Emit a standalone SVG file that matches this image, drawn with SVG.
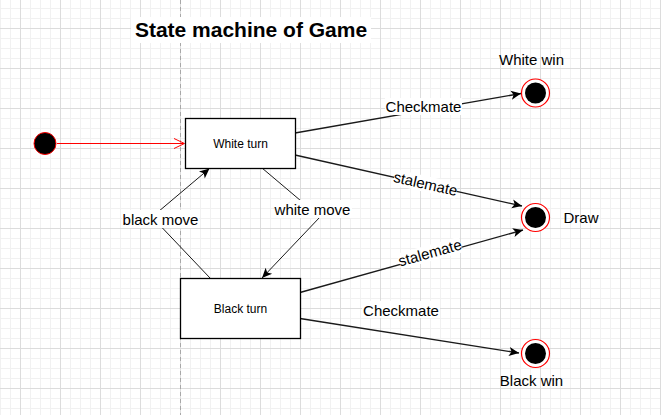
<svg xmlns="http://www.w3.org/2000/svg" width="661" height="415" viewBox="0 0 661 415">
<style>
text{font-family:"Liberation Sans",Arial,Helvetica,sans-serif;fill:#000}
.lbl{font-size:15px;text-anchor:middle}
.small{font-size:12px;text-anchor:middle}
.title{font-size:21px;font-weight:bold;text-anchor:middle}
.edge{fill:none;stroke:#1a1a1a;stroke-width:1.3}
.thin{fill:none;stroke:#1a1a1a;stroke-width:1}
.box{fill:#fff;stroke:#000;stroke-width:1.3}
.bg{fill:#fff}
.ringo{fill:#fff;stroke:#ff0000;stroke-width:1.2}
.core{fill:#000}
</style>
<defs>
<pattern id="grid" patternUnits="userSpaceOnUse" x="20" y="28" width="40" height="40">
<path d="M10.5,0V40M20.5,0V40M30.5,0V40M0,10.5H40M0,20.5H40M0,30.5H40" stroke="#f1f1f1" stroke-width="1" fill="none"/>
<path d="M0.5,0V40M0,0.5H40" stroke="#dcdcdc" stroke-width="1" fill="none"/>
</pattern>
<marker id="arr" markerUnits="userSpaceOnUse" markerWidth="11" markerHeight="9" refX="10" refY="4.5" orient="auto" overflow="visible">
<path d="M0,0 L10,4.5 L0,9 L2.5,4.5 Z" fill="#000"/>
</marker>
</defs>
<rect width="661" height="415" fill="#fff"/>
<rect width="661" height="415" fill="url(#grid)"/>
<line x1="180.5" y1="0" x2="180.5" y2="415" stroke="#a8a8a8" stroke-width="1" stroke-dasharray="4 3"/>

<g id="title">
<rect class="bg" x="131" y="17" width="240" height="26"/>
<text class="title" x="251" y="37">State machine of Game</text>
</g>

<g id="connectors">
<g id="e-init">
<line x1="57" y1="143.5" x2="184" y2="143.5" stroke="#ff0000" stroke-width="1"/>
<path d="M174,138.5 L184.5,143.5 L174,148.5" fill="none" stroke="#ff0000" stroke-width="1"/>
</g>
<g id="e-white-checkmate">
<line class="edge" x1="295" y1="133" x2="521" y2="93.5" marker-end="url(#arr)"/>
<rect class="bg" x="385" y="98" width="77" height="17"/>
<text class="lbl" x="423.5" y="112">Checkmate</text>
</g>
<g id="e-white-stalemate">
<line class="edge" x1="295" y1="155" x2="522" y2="206" marker-end="url(#arr)"/>
<g transform="translate(425.5,184) rotate(12.6)">
<rect class="bg" x="-32" y="-8" width="64" height="16"/>
<text class="lbl" x="0" y="5">stalemate</text>
</g>
</g>
<g id="e-black-stalemate">
<line class="edge" x1="300" y1="292.5" x2="523" y2="230" marker-end="url(#arr)"/>
<g transform="translate(430,253) rotate(-15.5)">
<rect class="bg" x="-32" y="-8" width="64" height="16"/>
<text class="lbl" x="0" y="5">stalemate</text>
</g>
</g>
<g id="e-black-checkmate">
<line class="edge" x1="300" y1="318.5" x2="519" y2="353" marker-end="url(#arr)"/>
<rect class="bg" x="362" y="301" width="78" height="17"/>
<text class="lbl" x="401" y="315.5">Checkmate</text>
</g>
<g id="e-black-move">
<polyline class="thin" points="210,278 152,217 209.5,168.5" marker-end="url(#arr)"/>
<rect class="bg" x="122" y="210" width="77" height="18"/>
<text class="lbl" x="160.5" y="225">black move</text>
</g>
<g id="e-white-move">
<polyline class="thin" points="262,168 320,217 262,278" marker-end="url(#arr)"/>
<rect class="bg" x="274" y="200" width="78" height="18"/>
<text class="lbl" x="312.5" y="215">white move</text>
</g>
</g>

<g id="initial">
<circle cx="45" cy="143.5" r="11" fill="#000" stroke="#ff0000" stroke-width="1"/>
</g>

<g id="white-turn">
<rect class="box" x="185.5" y="118.5" width="110" height="50"/>
<text class="small" x="240.5" y="147.5">White turn</text>
</g>

<g id="black-turn">
<rect class="box" x="180.5" y="278.5" width="120" height="60"/>
<text class="small" x="240.5" y="312.5">Black turn</text>
</g>

<g id="white-win">
<circle class="ringo" cx="535.5" cy="93" r="14"/>
<circle class="core" cx="535.5" cy="93" r="10.5"/>
<text class="lbl" x="531.5" y="65">White win</text>
</g>

<g id="draw">
<circle class="ringo" cx="535.5" cy="217.5" r="14"/>
<circle class="core" cx="535.5" cy="217.5" r="10.5"/>
<text class="lbl" x="581" y="223" >Draw</text>
</g>

<g id="black-win">
<circle class="ringo" cx="535.5" cy="353.5" r="14"/>
<circle class="core" cx="535.5" cy="353.5" r="10.5"/>
<text class="lbl" x="531.5" y="385.5">Black win</text>
</g>
</svg>
